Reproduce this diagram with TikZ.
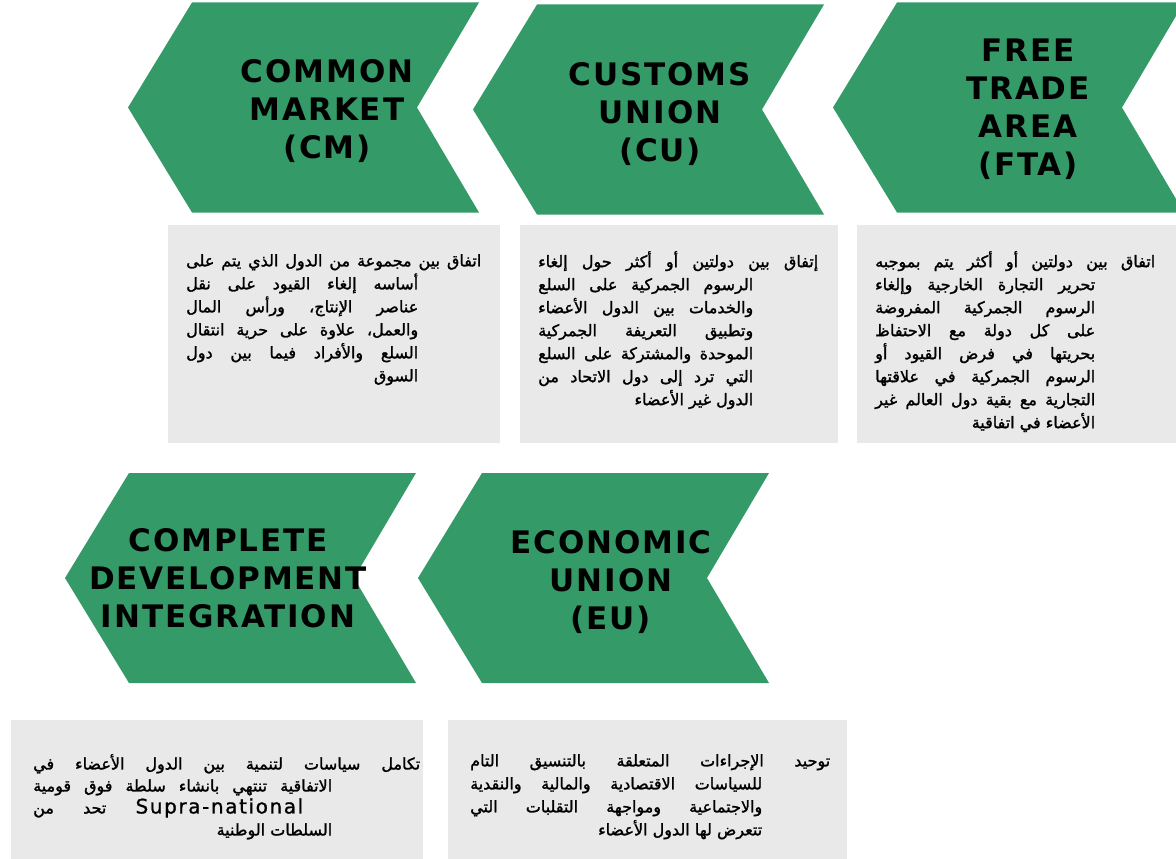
\documentclass[tikz,border=0pt]{standalone}
\usepackage{fontspec}
\usepackage{xcolor}
\usepackage{tikz}
\usetikzlibrary{positioning}
\TeXXeTstate=1
\newfontfamily\labelfont[LetterSpace=6]{DejaVu Sans Bold}
\newfontfamily\arabicfont[Script=Arabic,FakeBold=1.5]{DejaVu Sans}
\newfontfamily\suprafont[LetterSpace=8,FakeBold=1]{DejaVu Sans}
\definecolor{chevgreen}{RGB}{52,154,104}
\definecolor{boxgray}{RGB}{233,233,233}
\tikzset{%
  chevron/.pic   = {\fill[chevgreen] (0,0) -- (64,-105) -- (351,-105)
                    -- (289,0) -- (351,105) -- (64,105) -- cycle;}, % arrow body
  tag/.style     = {font=\labelfont\fontsize{31}{38}\selectfont, align=center,
                    inner sep=0pt}, % chevron title
  panel/.style   = {fill=boxgray, anchor=north west, inner sep=0pt}, % grey box
  note/.style    = {font=\arabicfont\fontsize{16}{23}\selectfont, align=left,
                    anchor=north west, inner sep=0pt} % arabic text
}
\newcommand\arj[2]{\makebox[#1pt][s]{#2}}
\newcommand\arr[2]{\makebox[#1pt][r]{#2}}

\begin{document}
\begin{tikzpicture}[x=1pt, y=-1pt]
  \useasboundingbox (0,0) rectangle (1176,859);

  \pic at (128,107.5) {chevron};
  \pic at (473,109.5) {chevron};
  \pic at (833,107.5) {chevron};
  \pic at (65,578) {chevron};
  \pic at (418,578) {chevron};

  \draw node at (327,111) [tag] (cm) {COMMON\\MARKET\\(CM)};
  \draw node at (660,114) [tag] (cu) {CUSTOMS\\UNION\\(CU)};
  \draw node at (1028,109) [tag] (fta) {FREE\\TRADE\\AREA\\(FTA)};
  \draw node at (228,578) [tag] (cdi) {COMPLETE\\DEVELOPMENT\\INTEGRATION};
  \draw node at (611,582) [tag] (eu) {ECONOMIC\\UNION\\(EU)};

  \draw node at (168,225) [panel, minimum width=332pt, minimum height=218pt] (cmbox) {};
  \draw node at (520,225) [panel, minimum width=318pt, minimum height=218pt] (cubox) {};
  \draw node at (857,225) [panel, minimum width=319pt, minimum height=218pt] (ftabox) {};
  \draw node at (11,720) [panel, minimum width=412pt, minimum height=139pt] (cdibox) {};
  \draw node at (448,720) [panel, minimum width=399pt, minimum height=139pt] (eubox) {};

  \draw node at (186,254) [note] (cmtext) {%
    \arj{295}{\beginR اتفاق بين مجموعة من الدول الذي يتم على\endR}\\
    \arj{232}{\beginR أساسه إلغاء القيود على نقل\endR}\\
    \arj{232}{\beginR عناصر الإنتاج، ورأس المال\endR}\\
    \arj{232}{\beginR والعمل، علاوة على حرية انتقال\endR}\\
    \arj{232}{\beginR السلع والأفراد فيما بين دول\endR}\\
    \arr{232}{\beginR السوق\endR}};
  \draw node at (538,251) [note] (cutext) {%
    \arj{280}{\beginR إتفاق بين دولتين أو أكثر حول إلغاء\endR}\\
    \arj{215}{\beginR الرسوم الجمركية على السلع\endR}\\
    \arj{215}{\beginR والخدمات بين الدول الأعضاء\endR}\\
    \arj{215}{\beginR وتطبيق التعريفة الجمركية\endR}\\
    \arj{215}{\beginR الموحدة والمشتركة على السلع\endR}\\
    \arj{215}{\beginR التي ترد إلى دول الاتحاد من\endR}\\
    \arr{215}{\beginR الدول غير الأعضاء\endR}};
  \draw node at (875,251) [note] (ftatext) {%
    \arj{280}{\beginR اتفاق بين دولتين أو أكثر يتم بموجبه\endR}\\
    \arj{220}{\beginR تحرير التجارة الخارجية وإلغاء\endR}\\
    \arj{220}{\beginR الرسوم الجمركية المفروضة\endR}\\
    \arj{220}{\beginR على كل دولة مع الاحتفاظ\endR}\\
    \arj{220}{\beginR بحريتها في فرض القيود أو\endR}\\
    \arj{220}{\beginR الرسوم الجمركية في علاقتها\endR}\\
    \arj{220}{\beginR التجارية مع بقية دول العالم غير\endR}\\
    \arr{220}{\beginR الأعضاء في اتفاقية\endR}};
  \draw node at (33,754) [note, font=\arabicfont\fontsize{16}{22}\selectfont] (cditext) {%
    \arj{387}{\beginR تكامل سياسات لتنمية بين الدول الأعضاء في\endR}\\
    \arj{299}{\beginR الاتفاقية تنتهي بانشاء سلطة فوق قومية\endR}\\
    \arj{270}{\beginR\beginL{\suprafont\fontsize{20}{22}\selectfont Supra-national}\endL{} تحد من\endR}\\
    \arr{299}{\beginR السلطات الوطنية\endR}};
  \draw node at (470,754) [note] (eutext) {%
    \arj{360}{\beginR توحيد الإجراءات المتعلقة بالتنسيق التام\endR}\\
    \arj{292}{\beginR للسياسات الاقتصادية والمالية والنقدية\endR}\\
    \arj{292}{\beginR والاجتماعية ومواجهة التقلبات التي\endR}\\
    \arr{292}{\beginR تتعرض لها الدول الأعضاء\endR}};

\end{tikzpicture}
\end{document}
